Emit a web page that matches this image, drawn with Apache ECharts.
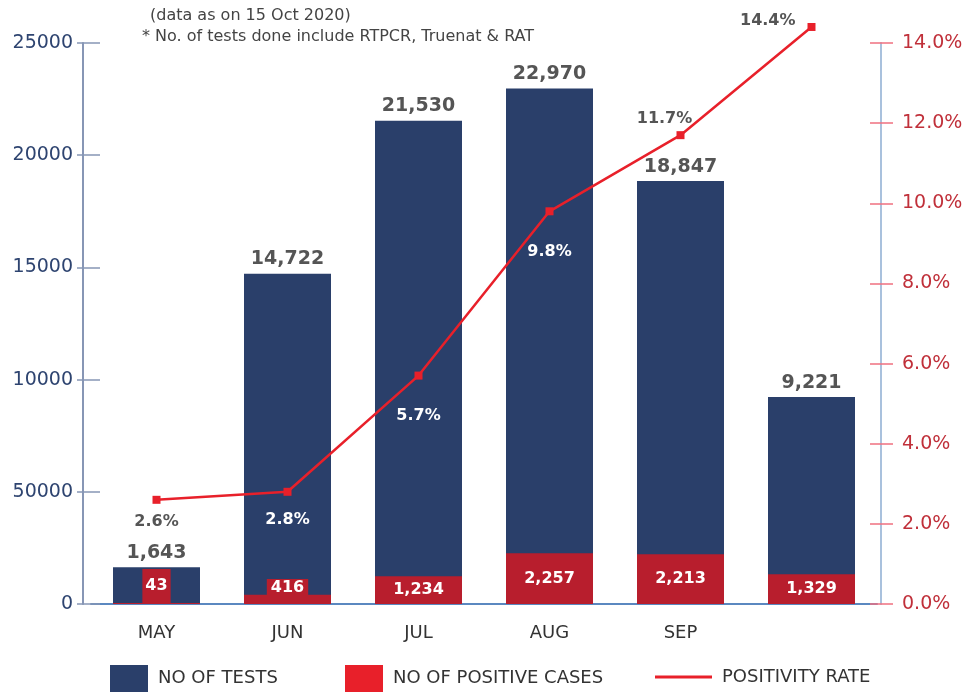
<!DOCTYPE html>
<html>
<head>
<meta charset="utf-8">
<script src="https://cdn.jsdelivr.net/npm/echarts@6/dist/echarts.min.js"></script>
<style>
  html, body { margin: 0; padding: 0; background: #fff; }
  #chart { width: 977px; height: 693px; }
</style>
</head>
<body>
<div id="chart"></div>
<script>
  // values
  const months = ['MAY', 'JUN', 'JUL', 'AUG', 'SEP', ''];
  const tests = [1643, 14722, 21530, 22970, 18847, 9221];
  const positives = [43, 416, 1234, 2257, 2213, 1329];
  const positivity = [2.6, 2.8, 5.7, 9.8, 11.7, 14.4];
  // left axis labels as printed (the 5000 tick really says 50000)
  const leftTickLabels = ['0', '50000', '10000', '15000', '20000', '25000'];
  const rightTickLabels = ['0.0%', '2.0%', '4.0%', '6.0%', '8.0%', '10.0%', '12.0%', '14.0%'];

  const FONT = 'DejaVu Sans';
  const NAVY = '#2a3f6a';
  const DARK_RED = '#b81e2d';
  const RED = '#e8202a';
  const GREY = '#555';

  const fmt = (v) => v.toLocaleString('en-US');

  // label placement for the red bars
  const posLabels = [
    { position: 'insideBottom', distance: 1, backgroundColor: DARK_RED, padding: [9, 3, 9, 3] },
    { position: 'insideBottom', distance: 8, backgroundColor: DARK_RED, padding: [0, 4, 0, 4], lineHeight: 17 },
    { position: 'inside' },
    { position: 'inside' },
    { position: 'inside' },
    { position: 'inside' },
  ];

  // label placement for the positivity line
  const rateLabels = [
    { position: 'bottom', distance: 10, color: GREY },
    { position: 'bottom', distance: 16, color: '#fff' },
    { position: 'bottom', distance: 28, color: '#fff' },
    { position: 'bottom', distance: 29, color: '#fff' },
    { position: 'top', distance: 4, offset: [-16, 0], color: GREY },
    { position: 'left', distance: 12, offset: [0, -6], color: GREY },
  ];

  const chart = echarts.init(document.getElementById('chart'));

  const leftAxisBase = {
    type: 'value',
    position: 'left',
    offset: 8,
    min: 0,
    max: 25000,
    interval: 5000,
    splitLine: { show: false },
  };
  const rightAxisBase = {
    type: 'value',
    position: 'right',
    offset: 4,
    min: 0,
    max: 14,
    interval: 2,
    splitLine: { show: false },
  };

  const legendText = { fontFamily: FONT, fontSize: 18, color: '#333', padding: [0, 0, 0, 5] };

  const option = {
    animation: false,
    backgroundColor: '#fff',
    textStyle: { fontFamily: FONT },
    title: [
      { text: '(data as on 15 Oct 2020)', left: 150, top: 8, padding: 0,
        textStyle: { fontFamily: FONT, fontSize: 16, fontWeight: 'normal', color: '#444' } },
      { text: '* No. of tests done include RTPCR, Truenat & RAT', left: 142, top: 29, padding: 0,
        textStyle: { fontFamily: FONT, fontSize: 16, fontWeight: 'normal', color: '#444' } },
    ],
    legend: [
      { data: [{ name: 'NO OF TESTS', itemStyle: { color: NAVY } }], left: 110, top: 665, padding: 0,
        icon: 'rect', itemWidth: 38, itemHeight: 27, textStyle: legendText },
      { data: [{ name: 'NO OF POSITIVE CASES', itemStyle: { color: RED } }], left: 345, top: 665, padding: 0,
        icon: 'rect', itemWidth: 38, itemHeight: 27, textStyle: legendText },
      { data: [{ name: 'POSITIVITY RATE', icon: 'rect', itemStyle: { color: RED } }], left: 655, top: 668, padding: 0,
        itemWidth: 57, itemHeight: 3, textStyle: legendText },
    ],
    grid: { left: 91, right: 100, top: 43, bottom: 89 },
    xAxis: {
      type: 'category',
      data: months,
      axisLine: { lineStyle: { color: '#5b88c0', width: 2 } },
      axisTick: { show: false },
      axisLabel: { fontFamily: FONT, fontSize: 18, color: '#333', margin: 20 },
    },
    yAxis: [
      Object.assign({}, leftAxisBase, {
        axisLine: { show: true, lineStyle: { color: '#8796b5', width: 2 } },
        axisTick: { show: true, inside: true, length: 17, lineStyle: { color: '#8796b5', width: 1.5 } },
        axisLabel: {
          fontFamily: FONT, fontSize: 19, color: '#2e4470', margin: 10,
          formatter: (v) => leftTickLabels[Math.round(v / 5000)],
        },
      }),
      Object.assign({}, rightAxisBase, {
        axisLine: { show: true, lineStyle: { color: '#a9c1dd', width: 2 } },
        axisTick: { show: true, inside: false, length: 12, lineStyle: { color: '#f07080', width: 1.5 } },
        axisLabel: {
          fontFamily: FONT, fontSize: 19, color: '#c0303a', margin: 21,
          formatter: (v) => rightTickLabels[Math.round(v / 2)],
        },
      }),
      // short outward ticks on the left axis
      Object.assign({}, leftAxisBase, {
        axisLine: { show: false },
        axisTick: { show: true, inside: false, length: 6, lineStyle: { color: '#8796b5', width: 1.5 } },
        axisLabel: { show: false },
      }),
      // short inward ticks on the right axis
      Object.assign({}, rightAxisBase, {
        axisLine: { show: false },
        axisTick: { show: true, inside: true, length: 11, lineStyle: { color: '#f07080', width: 1.5 } },
        axisLabel: { show: false },
      }),
    ],
    series: [
      {
        name: 'NO OF TESTS',
        type: 'bar',
        data: tests,
        barWidth: 87,
        barGap: '-100%',
        itemStyle: { color: NAVY },
        label: {
          show: true, position: 'top', distance: 5,
          fontFamily: FONT, fontSize: 19, fontWeight: 'bold', color: GREY,
          formatter: (p) => fmt(p.value),
        },
      },
      {
        name: 'NO OF POSITIVE CASES',
        type: 'bar',
        data: positives.map((v, i) => ({ value: v, label: posLabels[i] })),
        barWidth: 87,
        barGap: '-100%',
        itemStyle: { color: DARK_RED },
        label: {
          show: true,
          fontFamily: FONT, fontSize: 16, fontWeight: 'bold', color: '#fff',
          formatter: (p) => fmt(p.value),
        },
      },
      {
        name: 'POSITIVITY RATE',
        type: 'line',
        yAxisIndex: 1,
        clip: false,
        z: 5,
        data: positivity.map((v, i) => ({ value: v, label: rateLabels[i] })),
        symbol: 'rect',
        symbolSize: 8,
        lineStyle: { color: RED, width: 2.5 },
        itemStyle: { color: RED },
        label: {
          show: true,
          fontFamily: FONT, fontSize: 16, fontWeight: 'bold',
          formatter: (p) => p.value.toFixed(1) + '%',
        },
      },
    ],
  };

  chart.setOption(option);
</script>
</body>
</html>
